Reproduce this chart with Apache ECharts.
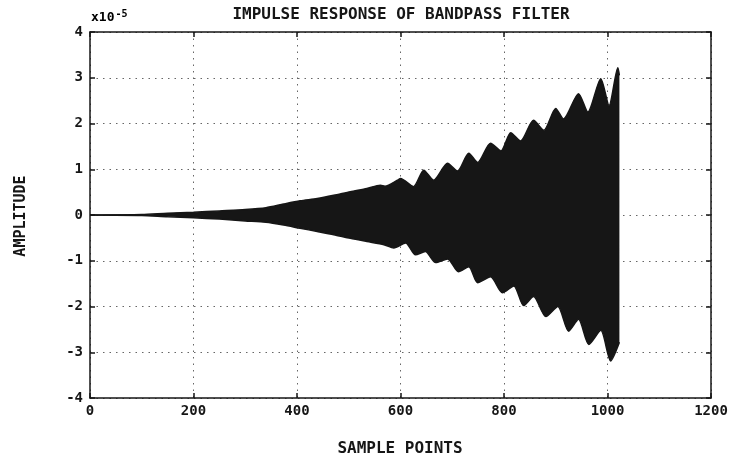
<!DOCTYPE html>
<html>
<head>
<meta charset="utf-8">
<script src="https://cdn.jsdelivr.net/npm/echarts@6/dist/echarts.min.js"></script>
<style>html,body{margin:0;padding:0;background:#fff;}#c{width:736px;height:461px;}</style>
</head>
<body>
<div id="c"></div>
<script>
// Upper envelope of the impulse response (sample index, amplitude x1e-5)
var upperX = [0, 100, 150, 200, 250, 300, 340, 374, 406, 439, 471, 503, 535, 561, 570, 594, 600, 625, 645, 664, 691, 710, 732, 749, 774, 794, 813, 832, 857, 877, 900, 915, 944, 962, 987, 1003, 1020, 1023];
var upperY = [0, 0.01, 0.04, 0.06, 0.09, 0.12, 0.16, 0.24, 0.31, 0.36, 0.43, 0.51, 0.58, 0.65, 0.63, 0.76, 0.80, 0.62, 0.98, 0.76, 1.13, 0.96, 1.35, 1.15, 1.57, 1.40, 1.80, 1.62, 2.07, 1.85, 2.33, 2.10, 2.65, 2.25, 2.98, 2.39, 3.22, 3.05];
// Lower envelope
var lowerX = [0, 100, 150, 200, 250, 300, 340, 374, 406, 439, 471, 503, 535, 568, 587, 610, 629, 648, 668, 691, 712, 732, 749, 774, 797, 819, 838, 857, 881, 904, 925, 944, 964, 987, 1006, 1023];
var lowerY = [0, -0.01, -0.04, -0.06, -0.09, -0.13, -0.16, -0.22, -0.29, -0.36, -0.43, -0.51, -0.58, -0.65, -0.72, -0.61, -0.87, -0.80, -1.04, -0.96, -1.24, -1.13, -1.48, -1.35, -1.70, -1.55, -1.98, -1.78, -2.22, -2.00, -2.54, -2.28, -2.83, -2.52, -3.19, -2.78];
// Axis ticks
var xTicks = [0, 200, 400, 600, 800, 1000, 1200];
var yTicks = [-4, -3, -2, -1, 0, 1, 2, 3, 4];

var titleText = 'IMPULSE RESPONSE OF BANDPASS FILTER';
var xName = 'SAMPLE POINTS';
var yName = 'AMPLITUDE';

function zip(a, b) { return a.map(function (v, i) { return [v, b[i]]; }); }

var ink = '#161616';
var font = 'DejaVu Sans Mono';
var dotted = { show: true, lineStyle: { color: '#666', width: 1, type: [1.5, 5] } };
var plain = function (v) { return String(v); };

var chart = echarts.init(document.getElementById('c'), null, { renderer: 'canvas' });
chart.setOption({
  backgroundColor: '#ffffff',
  animation: false,
  grid: { left: 90, right: 25, top: 32, bottom: 63, containLabel: false },
  xAxis: [{
    type: 'value', min: xTicks[0], max: xTicks[xTicks.length - 1], interval: 200, position: 'bottom',
    axisLine: { show: true, onZero: false, lineStyle: { color: ink, width: 1.5 } },
    axisTick: { show: true, inside: true, length: 5, lineStyle: { color: ink, width: 1.5 } },
    axisLabel: { color: ink, fontFamily: font, fontWeight: 'bold', fontSize: 14, margin: 6, formatter: plain },
    splitLine: dotted
  }, {
    type: 'value', min: xTicks[0], max: xTicks[xTicks.length - 1], interval: 200, position: 'top',
    axisLine: { show: true, onZero: false, lineStyle: { color: ink, width: 1.5 } },
    axisTick: { show: true, inside: true, length: 5, lineStyle: { color: ink, width: 1.5 } },
    axisLabel: { show: false }, splitLine: { show: false }
  }],
  yAxis: [{
    type: 'value', min: yTicks[0], max: yTicks[yTicks.length - 1], interval: 1, position: 'left',
    axisLine: { show: true, onZero: false, lineStyle: { color: ink, width: 1.5 } },
    axisTick: { show: true, inside: true, length: 5, lineStyle: { color: ink, width: 1.5 } },
    axisLabel: { color: ink, fontFamily: font, fontWeight: 'bold', fontSize: 14, margin: 7, formatter: plain },
    splitLine: dotted
  }, {
    type: 'value', min: yTicks[0], max: yTicks[yTicks.length - 1], interval: 1, position: 'right',
    axisLine: { show: true, onZero: false, lineStyle: { color: ink, width: 1.5 } },
    axisTick: { show: true, inside: true, length: 5, lineStyle: { color: ink, width: 1.5 } },
    axisLabel: { show: false }, splitLine: { show: false }
  }],
  graphic: [
    { type: 'text', x: 401, y: 7, style: { text: titleText, fill: ink, font: 'bold 16px "DejaVu Sans Mono"', textAlign: 'center', textVerticalAlign: 'top' } },
    { type: 'text', x: 91, y: 9, style: { rich: { b: { fontFamily: font, fontWeight: 'bold', fontSize: 13, color: ink }, s: { fontFamily: font, fontWeight: 'bold', fontSize: 10, color: ink, verticalAlign: 'top', padding: [0, 0, 8, 1] } }, text: '{b|x10}{s|-5}' } },
    { type: 'text', x: 400, y: 441, style: { text: xName, fill: ink, font: 'bold 16px "DejaVu Sans Mono"', textAlign: 'center', textVerticalAlign: 'top' } },
    { type: 'text', x: 14, y: 216, rotation: Math.PI / 2, style: { text: yName, fill: ink, font: 'bold 15px "DejaVu Sans Mono"', textAlign: 'center', textVerticalAlign: 'top' } }
  ],
  series: [{
    type: 'line', xAxisIndex: 0, yAxisIndex: 0, data: zip(upperX, upperY), showSymbol: false, smooth: 0.25,
    lineStyle: { color: ink, width: 1.5 }, areaStyle: { color: ink, opacity: 1, origin: 0 }
  }, {
    type: 'line', xAxisIndex: 0, yAxisIndex: 0, data: zip(lowerX, lowerY), showSymbol: false, smooth: 0.25,
    lineStyle: { color: ink, width: 1.5 }, areaStyle: { color: ink, opacity: 1, origin: 0 }
  }]
});
</script>
</body>
</html>
